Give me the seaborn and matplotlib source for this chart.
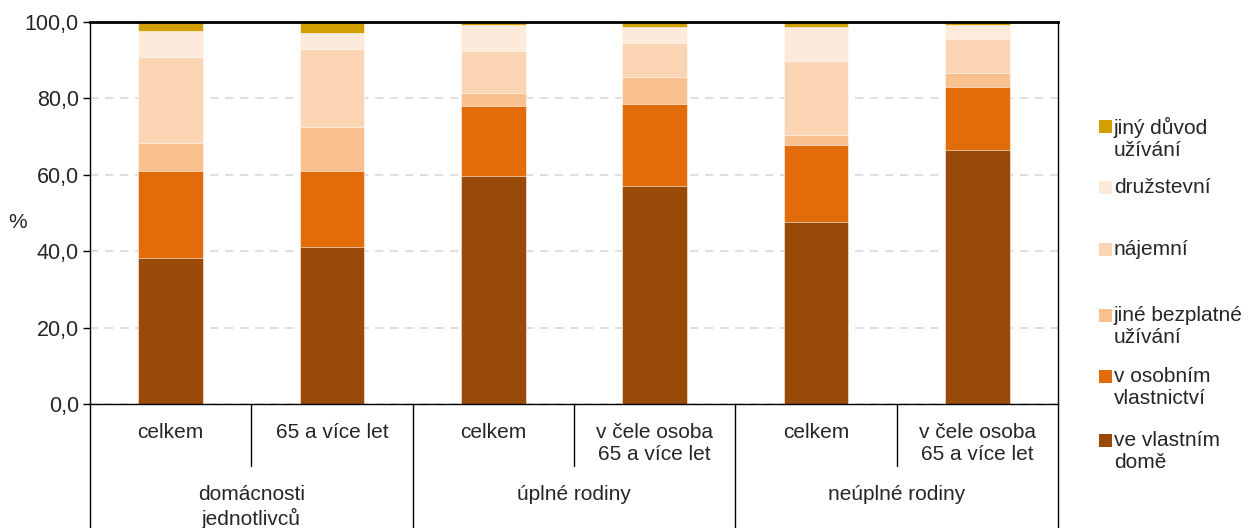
import numpy as np
import pandas as pd
import matplotlib
matplotlib.use("Agg")
import matplotlib.pyplot as plt
import matplotlib.transforms as mtransforms
from matplotlib.patches import Rectangle
import seaborn as sns

# Household groups and subgroups
groups = ["domácnosti\njednotlivců", "úplné rodiny", "neúplné rodiny"]
subgroups = ["celkem", "65 a více let",
             "celkem", "v čele osoba\n65 a více let",
             "celkem", "v čele osoba\n65 a více let"]

# Share of dwellings by legal reason of use (%), bottom to top
ve_vlastnim_dome = [38.2, 41.1, 59.7, 57.1, 47.6, 66.5]
v_osobnim_vlastnictvi = [22.8, 19.9, 18.3, 21.4, 20.2, 16.6]
jine_bezplatne = [7.3, 11.6, 3.4, 7.1, 2.7, 3.5]
najemni = [22.5, 20.3, 11.0, 8.9, 19.3, 8.9]
druzstevni = [6.9, 4.3, 6.8, 4.2, 8.9, 3.7]
jiny_duvod = [2.3, 2.8, 0.8, 1.3, 1.3, 0.8]

series_names = ["ve vlastním\ndomě", "v osobním\nvlastnictví", "jiné bezplatné\nužívání",
                "nájemní", "družstevní", "jiný důvod\nužívání"]
series_values = [ve_vlastnim_dome, v_osobnim_vlastnictvi, jine_bezplatne,
                 najemni, druzstevni, jiny_duvod]
colors = ["#994A08", "#E36C0A", "#F9C090", "#FCD5B5", "#FDEADA", "#D29F00"]

FS = 15
LS = 1.22

sns.set_theme(style="white")
plt.rcParams["font.family"] = ["Liberation Sans", "DejaVu Sans"]

fig = plt.figure(figsize=(12.55, 5.28), dpi=100)
ax = fig.add_axes([90 / 1255, 124 / 528, 968 / 1255, 382 / 528])

cats = [f"c{i}" for i in range(len(subgroups))]
cum = np.cumsum(np.array(series_values), axis=0)

# Stacked bars: draw cumulative totals from the top segment down
for k in range(len(series_values) - 1, -1, -1):
    df = pd.DataFrame({"cat": cats, "val": cum[k]})
    sns.barplot(data=df, x="cat", y="val", color=colors[k], width=0.4,
                saturation=1, ax=ax, edgecolor="white", linewidth=0.4, zorder=2)

ax.set_xlim(-0.5, len(cats) - 0.5)
ax.set_ylim(0, 100)
ax.set_yticks(np.arange(0, 101, 20))
ax.set_yticklabels([f"{v:.1f}".replace(".", ",") for v in np.arange(0, 101, 20)],
                   fontsize=FS + 0.5)
ax.set_xticks([])
ax.set_xlabel("")
ax.set_ylabel("")
ax.yaxis.grid(True, linestyle=(0, (5, 4)), color="#D9D9D9", linewidth=1.2, zorder=0)
ax.set_axisbelow(True)
ax.tick_params(axis="y", which="major", left=True, length=5, width=1, color="black", pad=3)
for side, sp in ax.spines.items():
    sp.set_color("black")
    sp.set_linewidth(1.0)
ax.spines["top"].set_linewidth(2.0)

fig.text(18 / 1255, 1 - 222 / 528, "%", fontsize=FS, ha="center", va="center")

# Category table under the axis
trans = mtransforms.blended_transform_factory(ax.transData, ax.transAxes)
y_bottom = (404 - 528) / 382
y_mid = (404 - 466) / 382
for xpos, yend in [(-0.5, y_bottom), (0.5, y_mid), (1.5, y_bottom), (2.5, y_mid),
                   (3.5, y_bottom), (4.5, y_mid), (5.5, y_bottom)]:
    ax.plot([xpos, xpos], [0, yend], color="black", linewidth=1.0,
            transform=trans, clip_on=False)

for i, lab in enumerate(subgroups):
    ax.text(i, (404 - 423) / 382, lab, transform=trans, ha="center", va="top",
            fontsize=FS, linespacing=LS)
for g, lab in enumerate(groups):
    ax.text(2 * g + 0.5, (404 - 485) / 382, lab, transform=trans, ha="center", va="top",
            fontsize=FS, linespacing=LS)

# Legend, top entry first
legend_y = [127, 188, 250, 316, 377, 441]
for k, yy in zip(range(len(series_names) - 1, -1, -1), legend_y):
    fig.patches.append(Rectangle((1099 / 1255, 1 - (yy + 6) / 528), 13 / 1255, 13 / 528,
                                 transform=fig.transFigure, facecolor=colors[k],
                                 edgecolor="none"))
    fig.text(1114 / 1255, 1 - (yy - 10) / 528, series_names[k], fontsize=FS,
             ha="left", va="top", linespacing=LS)

fig.savefig("out.png", dpi=100)
